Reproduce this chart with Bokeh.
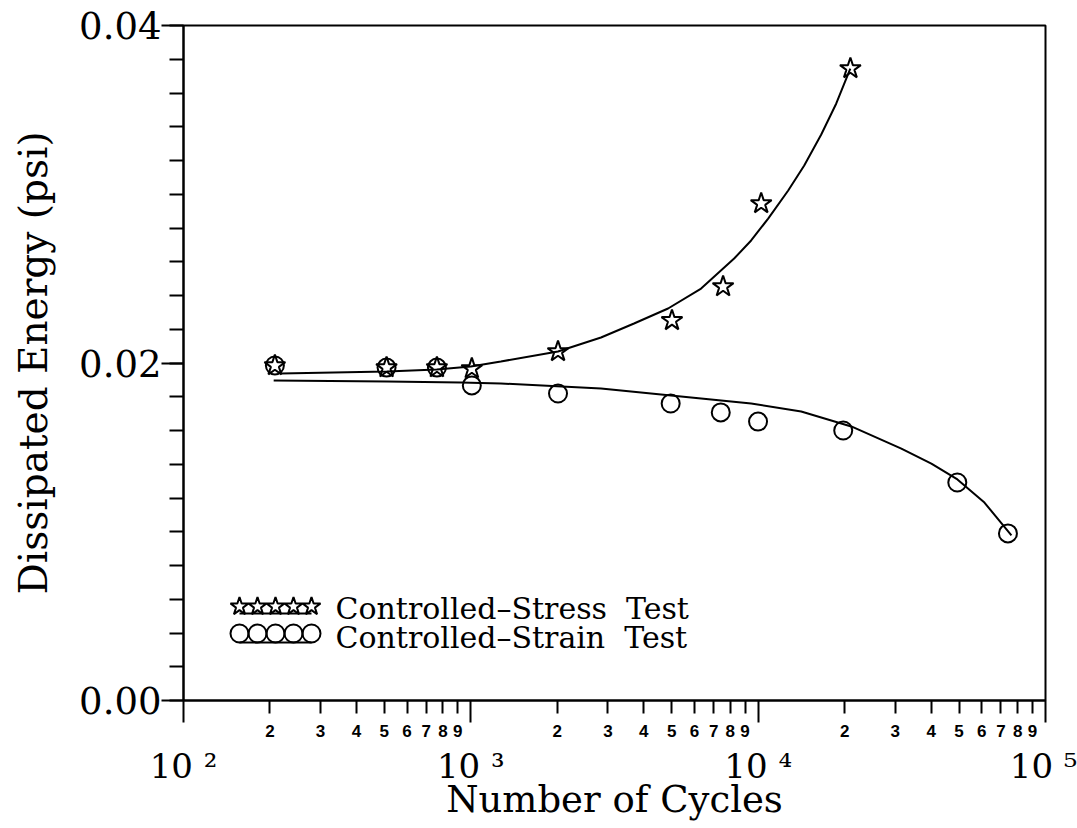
from math import log10
from bokeh.plotting import figure
from bokeh.models import (FixedTicker, PrintfTickFormatter, Label, LogAxis, Range1d)
from bokeh.embed import file_html
from bokeh.resources import INLINE

# ---------------- data ----------------
stress_cycles = [208, 509, 762, 1008, 2011, 5012, 7550, 10245, 20940]
stress_energy = [0.01985, 0.01973, 0.01973, 0.01967, 0.02068, 0.02252, 0.02453, 0.02945, 0.03745]

strain_cycles = [208, 509, 762, 1008, 2011, 4960, 7410, 9990, 19770, 49320, 74000]
strain_energy = [0.01985, 0.01973, 0.01973, 0.01867, 0.01819, 0.01760, 0.01707, 0.01653, 0.01600, 0.01292, 0.00990]

stress_fit_cycles = [218, 510, 761, 1000, 1272, 2010, 2838, 3698, 4858, 6330, 8249, 9454,
                     10834, 12722, 14465, 16577, 18700, 20925]
stress_fit_energy = [0.01938, 0.01950, 0.01961, 0.01979, 0.02009, 0.02068, 0.02151, 0.02234,
                     0.02323, 0.02441, 0.02619, 0.02726, 0.02856, 0.03022, 0.03170, 0.03354,
                     0.03538, 0.03745]

strain_fit_cycles = [206, 510, 923, 1272, 2838, 6330, 9454, 14119, 21090, 31500, 40070, 49370,
                     61300, 76110]
strain_fit_energy = [0.01896, 0.01890, 0.01884, 0.01879, 0.01849, 0.01790, 0.01760, 0.01713,
                     0.01624, 0.01493, 0.01404, 0.01310, 0.01173, 0.00978]

series_names = ["Controlled\u2013Stress\u00a0\u00a0Test", "Controlled\u2013Strain\u00a0\u00a0Test"]

x_decades = [100, 1000, 10000, 100000]
x_decade_labels = ["10 \u00b2", "10 \u00b3", "10 \u2074", "10 \u2075"]
x_minor_digits = [2, 3, 4, 5, 6, 7, 8, 9]
y_major_ticks = [0.0, 0.02, 0.04]
y_minor_step = 0.002

x_title = "Number of Cycles"
y_title = "Dissipated Energy (psi)"

# ---------------- layout ----------------
W, H = 1077, 828
FL, FT, FW, FH = 183, 25, 862, 675
X0, X1 = 100, 100000
Y0, Y1 = 0.0, 0.04
SERIF = "DejaVu Serif"


def xdata(px):
    return 10 ** (log10(X0) + (px - FL) / FW * (log10(X1) - log10(X0)))


def ydata(py):
    return Y0 + (FT + FH - py) / FH * (Y1 - Y0)


p = figure(width=W, height=H, x_axis_type="log",
           x_range=Range1d(X0, X1), y_range=Range1d(Y0, Y1),
           output_backend="svg", toolbar_location=None,
           min_border_left=FL, min_border_top=FT,
           min_border_right=W - FL - FW, min_border_bottom=H - FT - FH)
p.background_fill_color = "white"
p.border_fill_color = "white"
p.outline_line_color = "black"
p.outline_line_width = 2
p.grid.visible = False

# y axis
ya = p.yaxis[0]
ya.ticker = FixedTicker(ticks=y_major_ticks,
                        minor_ticks=[round(i * y_minor_step, 4) for i in range(int(round((Y1 - Y0) / y_minor_step)) + 1)])
ya.formatter = PrintfTickFormatter(format="%.2f")
ya.axis_line_width = 2
ya.major_tick_line_width = 2
ya.minor_tick_line_width = 2
ya.major_tick_out = 22
ya.major_tick_in = 0
ya.minor_tick_out = 14
ya.minor_tick_in = 0
ya.major_label_text_font = SERIF
ya.major_label_text_font_size = "37px"
ya.major_label_text_color = "black"
ya.major_label_standoff = 0
ya.axis_label = y_title
ya.axis_label_text_font = SERIF
ya.axis_label_text_font_size = "39px"
ya.axis_label_text_font_style = "normal"
ya.axis_label_text_color = "black"
ya.axis_label_standoff = 20

# x axis A: ticks, with digit labels at the intermediate ticks
minor_vals = [d * dec for dec in x_decades[:-1] for d in x_minor_digits]
minor_labs = [str(d) for dec in x_decades[:-1] for d in x_minor_digits]
xa = p.xaxis[0]
xa.ticker = FixedTicker(ticks=minor_vals, minor_ticks=x_decades)
xa.major_label_overrides = {v: t for v, t in zip(minor_vals, minor_labs)}
xa.major_label_text_font = "Liberation Sans"
xa.major_label_text_font_style = "bold"
xa.major_label_text_font_size = "17px"
xa.major_label_text_color = "black"
xa.major_label_standoff = 2
xa.axis_line_width = 2
xa.major_tick_line_width = 2
xa.minor_tick_line_width = 2
xa.major_tick_out = 13
xa.major_tick_in = 0
xa.minor_tick_out = 22
xa.minor_tick_in = 0

# x axis B: decade labels and the axis title
xb = LogAxis(ticker=FixedTicker(ticks=x_decades, minor_ticks=[]))
xb.major_label_overrides = {v: t for v, t in zip(x_decades, x_decade_labels)}
xb.major_label_text_font = SERIF
xb.major_label_text_font_size = "34px"
xb.major_label_text_color = "black"
xb.major_label_standoff = 6
xb.axis_line_alpha = 0
xb.major_tick_line_alpha = 0
xb.minor_tick_line_alpha = 0
xb.major_tick_out = 0
xb.major_tick_in = 0
xb.minor_tick_out = 0
xb.minor_tick_in = 0
xb.axis_label = x_title
xb.axis_label_text_font = SERIF
xb.axis_label_text_font_size = "37px"
xb.axis_label_text_font_style = "normal"
xb.axis_label_text_color = "black"
xb.axis_label_standoff = -11
p.add_layout(xb, "below")

# fitted curves
p.line(stress_fit_cycles, stress_fit_energy, line_color="black", line_width=2)
p.line(strain_fit_cycles, strain_fit_energy, line_color="black", line_width=2)

# data markers
p.scatter(strain_cycles, strain_energy, marker="circle", size=18, line_color="black",
          line_width=2, fill_alpha=0)
p.scatter(stress_cycles, stress_energy, marker="star", size=22, line_color="black",
          line_width=2, fill_alpha=0)

# legend (drawn by hand, like the original)
leg_px = [239 + 18 * i for i in range(5)]
leg_x = [xdata(v) for v in leg_px]
p.scatter(leg_x, [ydata(606)] * 5, marker="star", size=19, line_color="black", line_width=2, fill_alpha=0)
p.line([leg_x[0], leg_x[-1]], [ydata(613)] * 2, line_color="black", line_width=2)
p.scatter(leg_x, [ydata(633)] * 5, marker="circle", size=18, line_color="black", line_width=2, fill_alpha=0)
p.line([leg_x[0], leg_x[-1]], [ydata(642)] * 2, line_color="black", line_width=2)
for name, py in zip(series_names, [608, 637]):
    p.add_layout(Label(x=xdata(335), y=ydata(py), text=name, text_align="left",
                       text_baseline="middle", text_font=SERIF, text_font_size="30px",
                       text_color="black"))

open("out.html", "w").write(file_html(p, INLINE))
